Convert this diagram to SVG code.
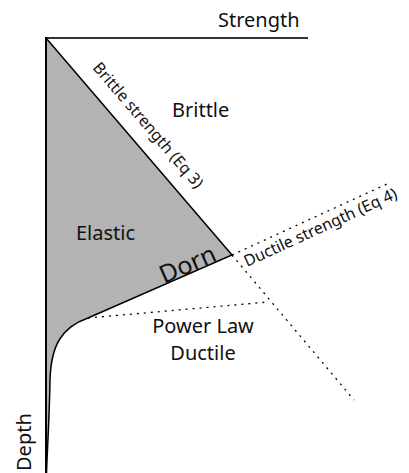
<svg xmlns="http://www.w3.org/2000/svg" width="409" height="473" viewBox="0 0 409 473">
<style>
text{font-family:"Noto Sans","Open Sans",sans-serif;fill:#111}
.lbl{font-size:20px}
.small{font-size:16px}
.dot{fill:none;stroke:#000;stroke-width:1.3;stroke-dasharray:2,5}
.solid{fill:none;stroke:#000;stroke-width:1.5}
</style>
<rect width="409" height="473" fill="#fff"/>
<g id="elastic-region">
<path d="M46,38 L232,255 L88,318 C62,327 51,345 50,380 C49.5,415 47.5,445 46.5,473 L46,473 Z" fill="#b3b3b3"/>
</g>
<g id="connectors">
<line class="dot" x1="232" y1="255" x2="387" y2="184"/>
<line class="dot" x1="232" y1="255" x2="354" y2="400"/>
<line class="dot" x1="88" y1="318" x2="268" y2="302"/>
<path class="solid" d="M46,38 L232,255 L88,318 C62,327 51,345 50,380 C49.5,415 47.5,445 46.5,473"/>
<line x1="46" y1="38" x2="308" y2="38" stroke="#333" stroke-width="2"/>
<line x1="46" y1="37" x2="46" y2="473" stroke="#000" stroke-width="2"/>
</g>
<g id="axis-strength"><text class="lbl" x="218" y="27">Strength</text></g>
<g id="axis-depth"><text class="lbl" transform="translate(31,471) rotate(-90)">Depth</text></g>
<g id="brittle"><text class="lbl" x="172" y="117">Brittle</text></g>
<g id="elastic"><text class="lbl" x="76" y="240">Elastic</text></g>
<g id="dorn"><text style="font-size:25px" transform="translate(164,284) rotate(-23.6)">Dorn</text></g>
<g id="power-law"><text class="lbl" x="203" y="333" text-anchor="middle">Power Law</text><text class="lbl" x="203" y="360" text-anchor="middle">Ductile</text></g>
<g id="brittle-strength"><text class="small" transform="translate(92,68) rotate(49.4)">Brittle strength (Eq 3)</text></g>
<g id="ductile-strength"><text class="small" transform="translate(247,267) rotate(-24.6)">Ductile strength (Eq 4)</text></g>
</svg>
